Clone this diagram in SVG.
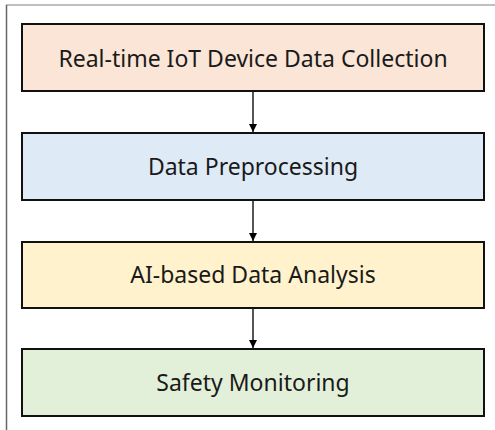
<svg xmlns="http://www.w3.org/2000/svg" width="495" height="430" viewBox="0 0 495 430">
  <defs>
    <style>
      .box { stroke: #111; stroke-width: 2; }
      .label { font-family: "Noto Sans", "Liberation Sans", sans-serif; font-size: 23px; fill: #1a1a1a; text-anchor: middle; dominant-baseline: central; }
      .conn { stroke: #555; stroke-width: 2; fill: none; }
    </style>
    <marker id="arrow" viewBox="0 0 10 10" refX="10" refY="5" markerWidth="8" markerHeight="8" markerUnits="userSpaceOnUse" orient="auto">
      <path d="M0,0 L10,5 L0,10 Z" fill="#000"/>
    </marker>
  </defs>
  <rect width="495" height="430" fill="#fff"/>
  <!-- page frame -->
  <line x1="6" y1="5" x2="495" y2="5" stroke="#aaa" stroke-width="1.5"/>
  <line x1="6.5" y1="5" x2="6.5" y2="430" stroke="#666" stroke-width="1.5"/>

  <g id="collection">
    <rect class="box" x="22" y="24" width="462" height="67" fill="#FBE5D6"/>
    <text class="label" x="253" y="58">Real-time IoT Device Data Collection</text>
  </g>
  <g id="preprocessing">
    <rect class="box" x="22" y="133" width="462" height="67" fill="#DEEBF7"/>
    <text class="label" x="253" y="166">Data Preprocessing</text>
  </g>
  <g id="analysis">
    <rect class="box" x="22" y="242" width="462" height="66" fill="#FFF2CC"/>
    <text class="label" x="253" y="274">AI-based Data Analysis</text>
  </g>
  <g id="monitoring">
    <rect class="box" x="22" y="349" width="462" height="67" fill="#E2F0D9"/>
    <text class="label" x="253" y="382">Safety Monitoring</text>
  </g>

  <g id="connectors">
    <line class="conn" x1="253" y1="92" x2="253" y2="132" marker-end="url(#arrow)"/>
    <line class="conn" x1="253" y1="201" x2="253" y2="241" marker-end="url(#arrow)"/>
    <line class="conn" x1="253" y1="309" x2="253" y2="348" marker-end="url(#arrow)"/>
  </g>
</svg>
